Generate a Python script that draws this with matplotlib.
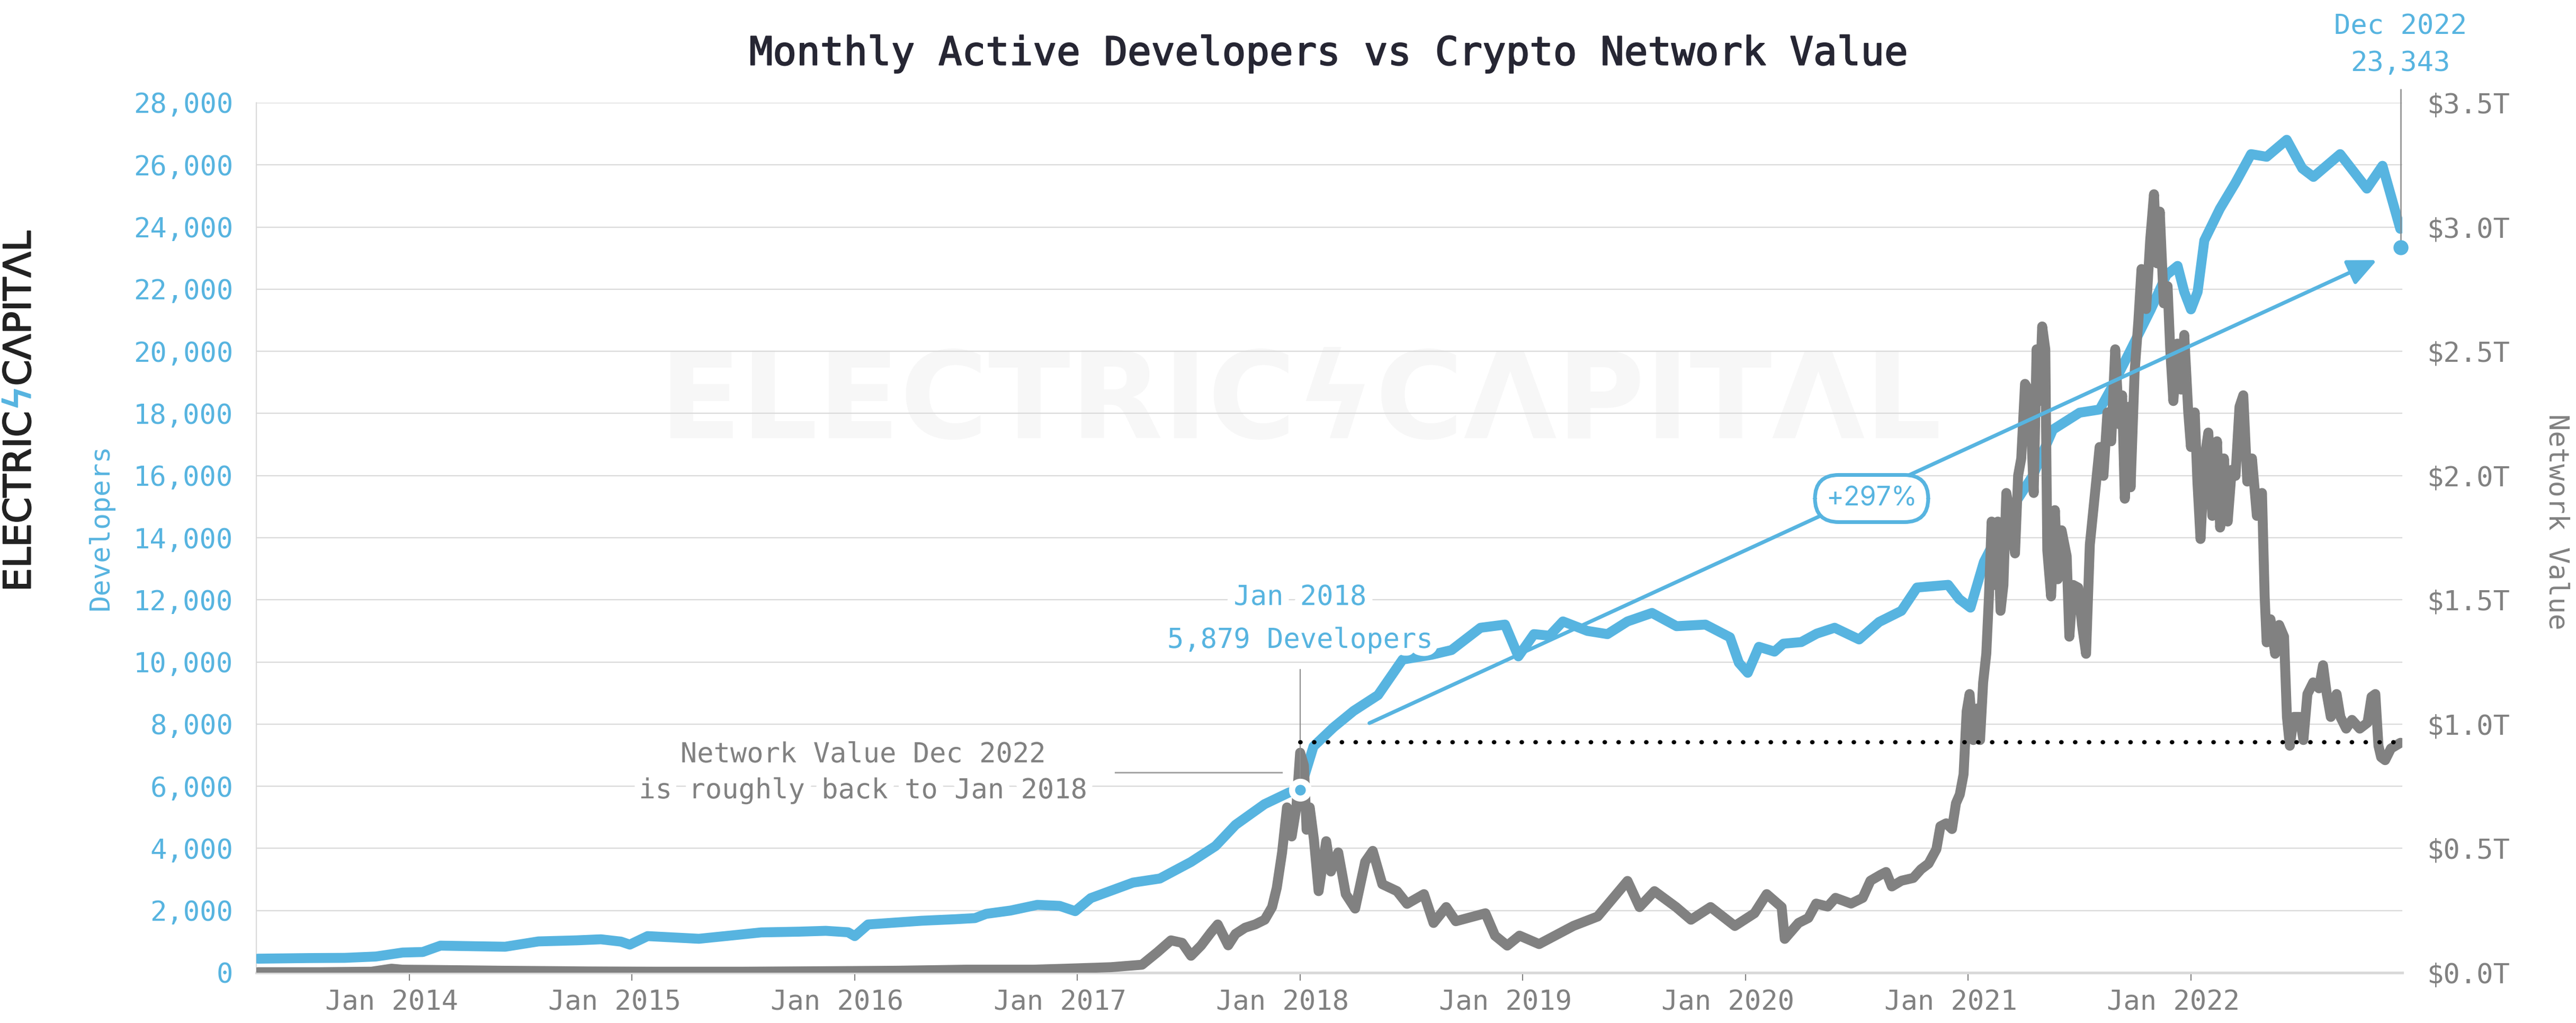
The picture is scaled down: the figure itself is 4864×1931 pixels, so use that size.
import matplotlib

matplotlib.use("Agg")
import matplotlib.patheffects as pe
import matplotlib.pyplot as plt
from matplotlib.patches import FancyArrowPatch
from matplotlib.transforms import ScaledTranslation

# values (x in decimal years)
dev_year = [
    2013.32, 2013.55, 2013.71, 2013.85, 2013.97, 2014.06, 2014.14, 2014.30, 2014.43,
    2014.58, 2014.75, 2014.86, 2014.95, 2014.99, 2015.07, 2015.30, 2015.45, 2015.58,
    2015.75, 2015.87, 2015.97, 2016.00, 2016.06, 2016.30, 2016.45, 2016.54, 2016.59,
    2016.70, 2016.82, 2016.92, 2016.99, 2017.06, 2017.25, 2017.37, 2017.51, 2017.62,
    2017.71, 2017.84, 2017.95, 2018.00, 2018.06, 2018.15, 2018.24, 2018.35, 2018.46,
    2018.59, 2018.68, 2018.81, 2018.92, 2018.98, 2019.05, 2019.12, 2019.18, 2019.29,
    2019.38, 2019.47, 2019.58, 2019.69, 2019.82, 2019.93, 2019.97, 2020.01, 2020.06,
    2020.13, 2020.17, 2020.25, 2020.32, 2020.40, 2020.51, 2020.60, 2020.70, 2020.77,
    2020.91, 2020.96, 2021.01, 2021.07, 2021.19, 2021.29, 2021.38, 2021.50, 2021.59,
    2021.64, 2021.73, 2021.82, 2021.89, 2021.94, 2021.97, 2022.00, 2022.03, 2022.06,
    2022.13, 2022.20, 2022.27, 2022.34, 2022.43, 2022.50, 2022.55, 2022.67, 2022.79,
    2022.86, 2022.94,
]
dev_count = [
    450, 470, 477, 520, 648, 665, 870, 850, 835,
    1006, 1040, 1074, 1000, 903, 1177, 1091, 1200, 1296,
    1320, 1347, 1300, 1177, 1552, 1671, 1720, 1756, 1893,
    2000, 2183, 2150, 1980, 2400, 2900, 3030, 3564, 4076,
    4758, 5423, 5800, 5879, 7282, 7896, 8424, 8936, 10078,
    10232, 10385, 11102, 11204, 10181, 10897, 10846, 11306, 11000,
    10897, 11306, 11579, 11153, 11204, 10795, 9976, 9652, 10488,
    10334, 10590, 10641, 10914, 11102, 10726, 11289, 11647, 12397,
    12483, 12022, 11750, 13216, 14887, 15996, 17480, 18025, 18127,
    18775, 20054, 21350, 22459, 22749, 21913, 21350, 21913, 23567,
    24590, 25426, 26347, 26262, 26808, 25887, 25614, 26347, 25238,
    25972, 23943,
]

nv_year = [
    2013.32, 2013.60, 2013.83, 2013.92, 2013.97, 2014.10, 2014.40, 2014.80, 2015.10,
    2015.50, 2015.90, 2016.20, 2016.50, 2016.80, 2016.95, 2017.15, 2017.29, 2017.36,
    2017.42, 2017.47, 2017.51, 2017.555, 2017.60, 2017.63, 2017.677, 2017.71, 2017.753,
    2017.798, 2017.841, 2017.874, 2017.895, 2017.919, 2017.941, 2017.962, 2017.983, 2018.000,
    2018.017, 2018.029, 2018.043, 2018.062, 2018.083, 2018.117, 2018.138, 2018.171, 2018.205,
    2018.247, 2018.292, 2018.326, 2018.369, 2018.435, 2018.480, 2018.556, 2018.599, 2018.656,
    2018.699, 2018.832, 2018.875, 2018.930, 2018.985, 2019.073, 2019.227, 2019.336, 2019.470,
    2019.524, 2019.591, 2019.688, 2019.755, 2019.843, 2019.952, 2020.040, 2020.095, 2020.162,
    2020.176, 2020.238, 2020.282, 2020.317, 2020.369, 2020.404, 2020.474, 2020.526, 2020.561,
    2020.605, 2020.631, 2020.657, 2020.700, 2020.753, 2020.788, 2020.822, 2020.857, 2020.875,
    2020.901, 2020.927, 2020.945, 2020.962, 2020.979, 2020.993, 2021.006, 2021.023, 2021.041,
    2021.053, 2021.067, 2021.081, 2021.093, 2021.105, 2021.119, 2021.133, 2021.145, 2021.158,
    2021.171, 2021.189, 2021.210, 2021.224, 2021.238, 2021.255, 2021.276, 2021.294, 2021.307,
    2021.320, 2021.332, 2021.346, 2021.355, 2021.372, 2021.389, 2021.402, 2021.419, 2021.442,
    2021.454, 2021.471, 2021.494, 2021.511, 2021.529, 2021.546, 2021.572, 2021.590, 2021.607,
    2021.625, 2021.642, 2021.660, 2021.677, 2021.691, 2021.703, 2021.721, 2021.729, 2021.747,
    2021.764, 2021.778, 2021.799, 2021.817, 2021.834, 2021.848, 2021.860, 2021.878, 2021.895,
    2021.907, 2021.921, 2021.939, 2021.956, 2021.970, 2021.988, 2022.000, 2022.017, 2022.029,
    2022.043, 2022.061, 2022.078, 2022.096, 2022.117, 2022.131, 2022.148, 2022.165, 2022.183,
    2022.200, 2022.218, 2022.235, 2022.253, 2022.274, 2022.296, 2022.319, 2022.331, 2022.340,
    2022.357, 2022.378, 2022.396, 2022.418, 2022.431, 2022.444, 2022.462, 2022.488, 2022.505,
    2022.523, 2022.549, 2022.575, 2022.593, 2022.610, 2022.628, 2022.654, 2022.671, 2022.697,
    2022.723, 2022.758, 2022.793, 2022.811, 2022.828, 2022.842, 2022.854, 2022.872, 2022.898,
    2022.941,
]
nv_trillion = [
    0.002, 0.002, 0.004, 0.016, 0.012, 0.011, 0.008, 0.005, 0.004,
    0.004, 0.006, 0.008, 0.012, 0.012, 0.016, 0.022, 0.032, 0.083,
    0.130, 0.120, 0.068, 0.109, 0.162, 0.194, 0.110, 0.156, 0.181,
    0.194, 0.213, 0.264, 0.341, 0.484, 0.665, 0.548, 0.665, 0.885,
    0.834, 0.575, 0.665, 0.535, 0.328, 0.529, 0.407, 0.484, 0.316,
    0.258, 0.446, 0.490, 0.356, 0.328, 0.277, 0.316, 0.200, 0.264,
    0.207, 0.239, 0.149, 0.109, 0.149, 0.115, 0.188, 0.226, 0.369,
    0.264, 0.328, 0.264, 0.213, 0.264, 0.188, 0.239, 0.316, 0.264,
    0.136, 0.200, 0.220, 0.278, 0.266, 0.301, 0.278, 0.301, 0.370,
    0.393, 0.405, 0.347, 0.370, 0.381, 0.416, 0.439, 0.497, 0.589,
    0.601, 0.578, 0.682, 0.717, 0.798, 1.052, 1.121, 0.936, 1.063,
    0.936, 1.168, 1.283, 1.514, 1.815, 1.560, 1.815, 1.456, 1.560,
    1.930, 1.838, 1.687, 2.000, 2.069, 2.369, 2.335, 1.930, 2.508,
    2.300, 2.600, 2.508, 1.699, 1.514, 1.861, 1.583, 1.780, 1.676,
    1.352, 1.560, 1.549, 1.399, 1.283, 1.722, 1.953, 2.115, 1.999,
    2.254, 2.138, 2.508, 2.207, 2.323, 1.907, 2.277, 1.953, 2.415,
    2.623, 2.831, 2.670, 2.947, 3.132, 2.854, 3.062, 2.693, 2.762,
    2.508, 2.300, 2.531, 2.346, 2.566, 2.254, 2.115, 2.254, 1.976,
    1.745, 2.069, 2.173, 1.838, 2.138, 1.791, 2.069, 1.815, 2.023,
    1.999, 2.277, 2.323, 1.976, 2.069, 1.838, 1.930, 1.514, 1.329,
    1.422, 1.283, 1.399, 1.352, 1.029, 0.913, 1.029, 1.029, 0.936,
    1.121, 1.168, 1.144, 1.237, 1.121, 1.029, 1.121, 1.029, 0.982,
    1.017, 0.982, 1.006, 1.110, 1.121, 0.913, 0.867, 0.855, 0.902,
    0.925,
]

year_ticks = [2014, 2015, 2016, 2017, 2018, 2019, 2020, 2021, 2022]
dev_ticks = list(range(0, 28001, 2000))
nv_ticks = [0.0, 0.5, 1.0, 1.5, 2.0, 2.5, 3.0, 3.5]

start_year, start_devs = 2018.0, 5879
end_year, end_devs = 2022.941, 23343
nv_level = 0.927
growth_label = "+297%"

BLUE = "#57b4e0"
GREY = "#818181"
MONO = "DejaVu Sans Mono"
DPI = 300

fig = plt.figure(figsize=(4865 / DPI, 1931 / DPI), dpi=DPI, facecolor="white")
ax = fig.add_axes([484 / 4865, 1 - 1836 / 1931, 4052 / 4865, 1642 / 1931])
ax2 = ax.twinx()

ax.plot(dev_year, dev_count, color=BLUE, lw=4.5, solid_joinstyle="round",
        solid_capstyle="round", zorder=3)
ax2.plot(nv_year, nv_trillion, color=GREY, lw=4.5, solid_joinstyle="round",
         solid_capstyle="round", zorder=2)

# axes styling
for a in (ax, ax2):
    for side in ("top", "right", "left", "bottom"):
        a.spines[side].set_visible(False)
ax.spines["left"].set_visible(True)
ax.spines["left"].set_color("#d9d9d9")
ax.spines["left"].set_linewidth(0.5)
ax.spines["bottom"].set_visible(True)
ax.spines["bottom"].set_color("#d9d9d9")
ax.spines["bottom"].set_linewidth(1.2)

ax.set_axisbelow(True)
ax.yaxis.grid(True, color="#dadada", lw=0.55)
ax.set_yticks(dev_ticks)
ax.set_yticklabels([f"{v:,}" for v in dev_ticks], family=MONO, fontsize=12.5)
ax.tick_params(axis="y", length=0, pad=10.5, labelcolor=BLUE)

ax2.set_yticks(nv_ticks)
ax2.set_yticklabels([f"${v:.1f}T" for v in nv_ticks], family=MONO, fontsize=12.5)
ax2.tick_params(axis="y", length=0, pad=11, labelcolor=GREY)

ax.set_xticks(year_ticks)
ax.set_xticklabels([f"Jan {y}" for y in year_ticks], family=MONO, fontsize=12.5)
ax.tick_params(axis="x", length=3.6, width=0.5, color=GREY, labelcolor=GREY, pad=4)
shift = ScaledTranslation(-33 / DPI, 0, fig.dpi_scale_trans)
for label in ax.get_xticklabels():
    label.set_transform(label.get_transform() + shift)

# watermark
ax.text(2018.0, 18264, "ELECTRIC\u03dfC\u039bPIT\u039bL", ha="center", va="center",
        fontsize=54.5, weight="bold", color="#f7f7f7", family="DejaVu Sans", zorder=0.2)

halo = [pe.withStroke(linewidth=7, foreground="white")]
data = ax.transData

# Dec 2022 callout
ax2.plot([end_year, end_year], [end_devs, 28430], transform=data, color="#8c8c8c",
         lw=0.6, clip_on=False, zorder=4)
ax2.plot([end_year], [end_devs], transform=data, marker="o", ms=5.8, color=BLUE,
         clip_on=False, zorder=6)
ax2.text(end_year, 30440, "Dec 2022", transform=data, ha="center", va="center",
         color=BLUE, family=MONO, fontsize=12.5, clip_on=False)
ax2.text(end_year, 29263, f"{end_devs:,}", transform=data, ha="center", va="center",
         color=BLUE, family=MONO, fontsize=12.5, clip_on=False)

# Jan 2018 callout
ax2.plot([start_year, start_year], [start_devs, 9754], transform=data, color="#8c8c8c",
         lw=0.5, zorder=4)
ax2.text(start_year, 12074, "Jan 2018", transform=data, ha="center", va="center",
         color=BLUE, family=MONO, fontsize=12.5, path_effects=halo, zorder=5)
ax2.text(start_year, 10692, f"{start_devs:,} Developers", transform=data, ha="center",
         va="center", color=BLUE, family=MONO, fontsize=12.5, path_effects=halo, zorder=5)

# network value back to Jan 2018 level
ax2.plot([start_year, 2022.949], [nv_level, nv_level], color="black", lw=1.9,
         linestyle=(0, (0.1, 3.2)), dash_capstyle="round", zorder=5)
ax2.plot([2017.17, 2017.917], [6446, 6446], transform=data, color="#a6a6a6", lw=0.75,
         zorder=4)
ax2.text(2016.038, 7009, "Network Value Dec 2022", transform=data, ha="center",
         va="center", color=GREY, family=MONO, fontsize=12.5, path_effects=halo, zorder=5)
ax2.text(2016.038, 5849, "is roughly back to Jan 2018", transform=data, ha="center",
         va="center", color=GREY, family=MONO, fontsize=12.5, path_effects=halo, zorder=5)

ax2.plot([start_year], [start_devs], transform=data, marker="o", ms=7.6, mew=2.75,
         mfc=BLUE, mec="white", zorder=7)

# growth arrow
arrow = FancyArrowPatch((2018.311, 8032), (2022.835, 22936), transform=data,
                        arrowstyle="-|>,head_length=0.55,head_width=0.25",
                        mutation_scale=20, color=BLUE, lw=1.7, shrinkA=0, shrinkB=0,
                        zorder=8)
ax2.add_artist(arrow)
ax2.text(2020.566, 15262, growth_label, transform=data, ha="center", va="center",
         color=BLUE, family="Inter", fontsize=12, zorder=9,
         bbox=dict(boxstyle="round,pad=0.42,rounding_size=0.9", fc="white", ec=BLUE,
                   lw=1.7))

ax.set_xlim(2013.313, 2022.949)
ax.set_ylim(0, 28000)
ax2.set_ylim(0, 3.5)

# titles and side labels
title_colour = "#262633"
fig.text(2508 / 4865, 1 - 102 / 1931, "Monthly Active Developers vs Crypto Network Value",
         ha="center", va="center", family=MONO, fontsize=17.8, color=title_colour,
         path_effects=[pe.withStroke(linewidth=0.5, foreground=title_colour)])
fig.text(191 / 4865, 1 - 995 / 1931, "Developers", rotation=90, ha="center", va="center",
         family=MONO, fontsize=12.5, color=BLUE)
fig.text(4828 / 4865, 1 - 985 / 1931, "Network Value", rotation=270, ha="center",
         va="center", family=MONO, fontsize=12.5, color=GREY)

# vertical logo built from pieces so the bolt can be blue
renderer = fig.canvas.get_renderer()
logo_y = 1 - 1117 / 1931
for piece, colour in (("ELECTRIC", "#222222"), ("\u03df", BLUE), ("C\u039bPIT\u039bL", "#222222")):
    t = fig.text(38 / 4865, logo_y, piece, rotation=90, rotation_mode="anchor", ha="left",
                 va="center", family="DejaVu Sans", fontsize=17, color=colour,
                 path_effects=[pe.withStroke(linewidth=0.5, foreground=colour)])
    logo_y += t.get_window_extent(renderer).height / fig.bbox.height

fig.savefig("out.png", dpi=DPI, facecolor="white")
